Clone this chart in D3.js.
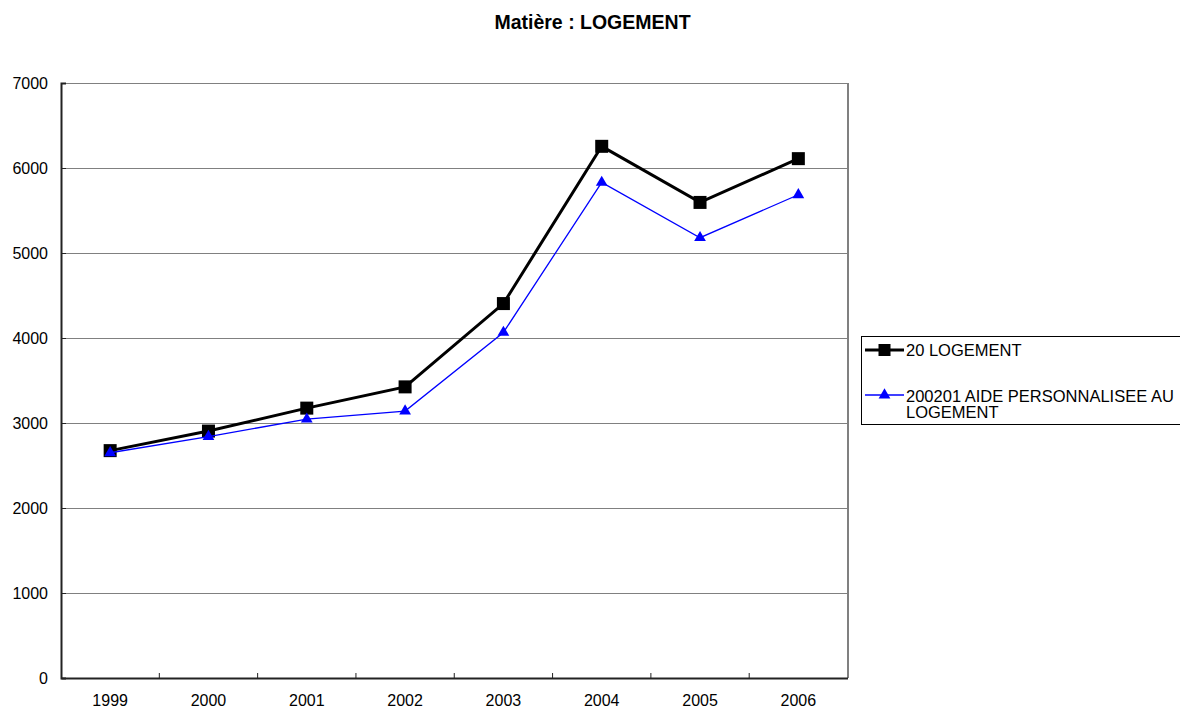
<!DOCTYPE html>
<html>
<head>
<meta charset="utf-8">
<script src="https://cdn.jsdelivr.net/npm/d3@7"></script>
<style>
  html, body { margin: 0; padding: 0; background: #fff; }
  svg { display: block; font-family: "Liberation Sans", Arial, sans-serif; }
</style>
</head>
<body>
<svg id="chart" width="1180" height="709"></svg>
<script>
// Années (catégories)
const years = ["1999", "2000", "2001", "2002", "2003", "2004", "2005", "2006"];
// Série 20 LOGEMENT
const logement = [2675, 2905, 3175, 3425, 4405, 6255, 5595, 6110];
// Série 200201 AIDE PERSONNALISEE AU LOGEMENT
const aideLogement = [2650, 2840, 3045, 3140, 4065, 5830, 5180, 5685];
// Graduations de l'axe des valeurs
const yTicks = [0, 1000, 2000, 3000, 4000, 5000, 6000, 7000];
const seriesNames = ["20 LOGEMENT", "200201 AIDE PERSONNALISEE AU LOGEMENT"];
const chartTitle = "Matière : LOGEMENT";

const svg = d3.select("#chart");
const plot = { left: 61, right: 847.5, top: 83, bottom: 678 };

const x = d3.scaleBand().domain(years).range([plot.left, plot.right]);
const y = d3.scaleLinear().domain([0, 7000]).range([plot.bottom, plot.top]);
const cx = d => x(d) + x.bandwidth() / 2;

// Titre
svg.append("text")
  .attr("x", 592.5).attr("y", 28.5)
  .attr("text-anchor", "middle")
  .attr("font-weight", "bold")
  .attr("font-size", 19.5)
  .text(chartTitle);

// Quadrillage horizontal
svg.append("g").selectAll("line")
  .data(yTicks.filter(v => v > 0))
  .join("line")
  .attr("x1", plot.left).attr("x2", plot.right)
  .attr("y1", d => y(d)).attr("y2", d => y(d))
  .attr("stroke", "#808080").attr("stroke-width", 1)
  .attr("shape-rendering", "crispEdges");

// Bordure droite de la zone de traçage
svg.append("line")
  .attr("x1", plot.right).attr("x2", plot.right)
  .attr("y1", plot.top).attr("y2", plot.bottom)
  .attr("stroke", "#808080").attr("stroke-width", 2)
  .attr("shape-rendering", "crispEdges");

// Axe des valeurs
const yAxis = svg.append("g")
  .attr("transform", `translate(${plot.left},0)`)
  .call(d3.axisLeft(y).tickValues(yTicks).tickFormat(d3.format("d")).tickSize(-5).tickPadding(13));
yAxis.select(".domain").attr("stroke", "#222").attr("stroke-width", 2);
yAxis.selectAll(".tick line").attr("stroke", "#222");
yAxis.selectAll("text").attr("font-size", 16).attr("fill", "#000")
  .attr("font-family", "Liberation Sans, Arial, sans-serif");

// Axe des catégories
const xAxis = svg.append("g")
  .attr("transform", `translate(0,${plot.bottom})`)
  .call(d3.axisBottom(x).tickSize(0).tickPadding(17));
xAxis.select(".domain").attr("stroke", "#222").attr("stroke-width", 2);
xAxis.selectAll("text").attr("font-size", 16).attr("fill", "#000")
  .attr("font-family", "Liberation Sans, Arial, sans-serif");
// Graduations entre les catégories
svg.append("g").selectAll("line")
  .data(years.slice(1))
  .join("line")
  .attr("x1", d => x(d)).attr("x2", d => x(d))
  .attr("y1", plot.bottom).attr("y2", plot.bottom - 5)
  .attr("stroke", "#222").attr("stroke-width", 1);

const line = d3.line().x((d, i) => cx(years[i])).y(d => y(d));

// Série 1 : ligne noire épaisse + carrés
svg.append("path").datum(logement)
  .attr("d", line).attr("fill", "none")
  .attr("stroke", "#000").attr("stroke-width", 3);
svg.append("g").selectAll("rect")
  .data(logement).join("rect")
  .attr("x", (d, i) => cx(years[i]) - 6.5).attr("y", d => y(d) - 6.5)
  .attr("width", 13).attr("height", 13).attr("fill", "#000");

// Série 2 : ligne bleue fine + triangles
const tri = d3.symbol().type(d3.symbolTriangle).size(60);
svg.append("path").datum(aideLogement)
  .attr("d", line).attr("fill", "none")
  .attr("stroke", "#0000ff").attr("stroke-width", 1.3);
svg.append("g").selectAll("path")
  .data(aideLogement).join("path")
  .attr("d", tri)
  .attr("transform", (d, i) => `translate(${cx(years[i])},${y(d)})`)
  .attr("fill", "#0000ff");

// Légende
const lg = svg.append("g");
lg.append("rect")
  .attr("x", 861).attr("y", 336).attr("width", 330).attr("height", 88)
  .attr("fill", "#fff").attr("stroke", "#000").attr("stroke-width", 1)
  .attr("shape-rendering", "crispEdges");
lg.append("line").attr("x1", 865).attr("x2", 904).attr("y1", 350).attr("y2", 350)
  .attr("stroke", "#000").attr("stroke-width", 3);
lg.append("rect").attr("x", 878.5).attr("y", 344).attr("width", 12).attr("height", 12).attr("fill", "#000");
lg.append("text").attr("x", 906).attr("y", 355.5).attr("font-size", 16.5).text(seriesNames[0]);
lg.append("line").attr("x1", 865).attr("x2", 904).attr("y1", 395).attr("y2", 395)
  .attr("stroke", "#0000ff").attr("stroke-width", 1.3);
lg.append("path").attr("d", tri).attr("transform", "translate(884.5,395)").attr("fill", "#0000ff");
const t2 = lg.append("text").attr("font-size", 16.5);
t2.append("tspan").attr("x", 906).attr("y", 401.5).text("200201 AIDE PERSONNALISEE AU");
t2.append("tspan").attr("x", 906).attr("y", 418.3).text("LOGEMENT");
</script>
</body>
</html>
